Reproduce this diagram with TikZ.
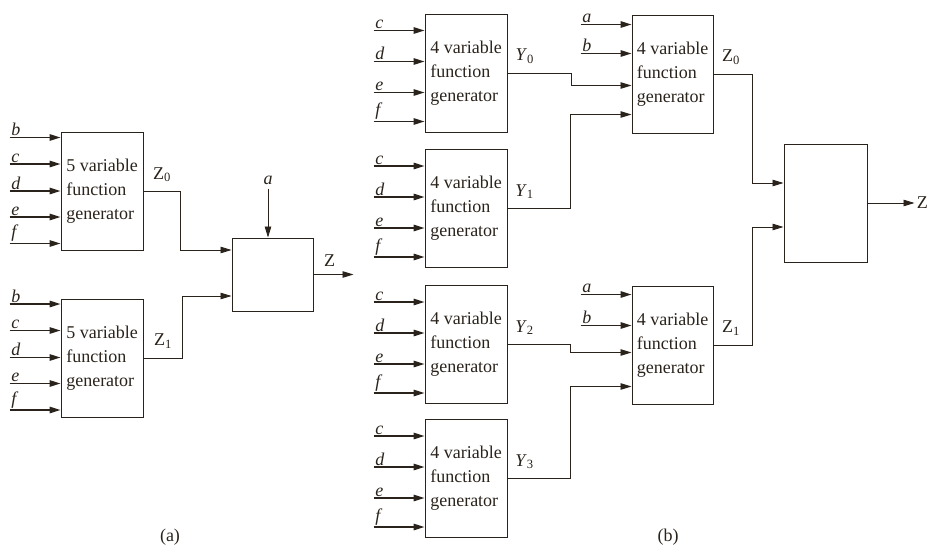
\documentclass[tikz,border=0pt]{standalone}
\usepackage{fontspec}
\setmainfont{Liberation Serif}
\usetikzlibrary{arrows.meta,positioning,calc}
\definecolor{ink}{RGB}{42,35,28}

\begin{document}
\begin{tikzpicture}[
    x=1pt, y=-1pt,
    every node/.style = {text=ink, font=\fontsize{18}{24}\selectfont},
    fgen/.style   = {draw=ink, line width=1pt, minimum width=82pt,
                     minimum height=118pt, align=left, inner sep=0pt},
    mux/.style    = {draw=ink, line width=1pt, inner sep=0pt},
    arr/.style    = {-{Triangle[length=11pt,width=6.5pt]}, draw=ink, line width=0.9pt},
    inarr/.style  = {arr, line width=1.5pt},
    inlbl/.style  = {anchor=south west, inner sep=1pt,
                     font=\fontsize{18}{24}\selectfont\itshape},
    outlbl/.style = {above=6pt},
]
\useasboundingbox (0,0) rectangle (932,546);

% (a) two 5-variable generators and a selector
\node[fgen] (A0) at (102,191.5) {5 variable\\function\\generator};
\node[fgen] (A1) at (102,358)   {5 variable\\function\\generator};
\node[mux, minimum width=81pt, minimum height=73pt] (M) at (272.5,274.5) {};
\foreach \b in {A0,A1}
  \foreach \v/\dy in {b/5.5,c/32,d/59,e/85,f/111.5}
    \draw[inarr] ([xshift=-51pt,yshift=-\dy pt]\b.north west) node[inlbl] (\b\v) {\v}
                 -- ++(51,0);
\draw[arr] (A0.east) -- node[pos=0.5, outlbl] (za0) {Z\textsubscript{0}} ++(37,0)
           |- ([yshift=24.5pt]M.west);
\draw[arr] (A1.east) -- node[pos=0.5, outlbl] (za1) {Z\textsubscript{1}} ++(39,0)
           |- ([yshift=-21.5pt]M.west);
\draw[arr] ([xshift=-4.5pt,yshift=49pt]M.north) node[above] (sela) {\textit{a}}
           -- ([xshift=-4.5pt]M.north);
\draw[arr] (M.east) -- node[pos=0.4, above=4pt] (za) {Z} ++(40,0);
\node (capa) at (170,537) {(a)};

% (b) 4-variable generators in two levels
\foreach \b/\y in {B0/73,B1/208.5,B2/344.5,B3/478.5}
  \node[fgen] (\b) at (466,\y) {4 variable\\function\\generator};
\node[fgen, minimum width=81pt] (C0) at (672.5,74)  {4 variable\\function\\generator};
\node[fgen, minimum width=81pt] (C1) at (672.5,345) {4 variable\\function\\generator};
\node[mux, minimum width=83pt, minimum height=118pt] (F) at (825.5,203) {};
\foreach \b in {B0,B1,B2,B3}
  \foreach \v/\dy in {c/17,d/48,e/79,f/108}
    \draw[inarr] ([xshift=-51pt,yshift=-\dy pt]\b.north west) node[inlbl] (\b\v) {\v}
                 -- ++(51,0);
\foreach \b/\da/\db in {C0/10/39,C1/9/40} {
  \draw[inarr] ([xshift=-51pt,yshift=-\da pt]\b.north west) node[inlbl] (\b a) {a}
               -- ++(51,0);
  \draw[inarr] ([xshift=-51pt,yshift=-\db pt]\b.north west) node[inlbl] (\b b) {b}
               -- ++(51,0);
}
\draw[arr] (B0.east) -- node[pos=0.27, outlbl] (y0) {\textit{Y}\textsubscript{0}} ++(64,0)
           |- ([yshift=-71pt]C0.north west);
\draw[arr] (B1.east) -- node[pos=0.27, outlbl] (y1) {\textit{Y}\textsubscript{1}} ++(63,0)
           |- ([yshift=-100pt]C0.north west);
\draw[arr] (B2.east) -- node[pos=0.27, outlbl] (y2) {\textit{Y}\textsubscript{2}} ++(63,0)
           |- ([yshift=-67pt]C1.north west);
\draw[arr] (B3.east) -- node[pos=0.27, outlbl] (y3) {\textit{Y}\textsubscript{3}} ++(63,0)
           |- ([yshift=-101pt]C1.north west);
\draw[arr] (C0.east) -- node[pos=0.45, outlbl] (zb0) {Z\textsubscript{0}} ++(39,0)
           |- ([yshift=20pt]F.west);
\draw[arr] (C1.east) -- node[pos=0.45, outlbl] (zb1) {Z\textsubscript{1}} ++(39,0)
           |- ([yshift=-24pt]F.west);
\draw[arr] (F.east) -- ++(47,0) node[right=0pt, inner sep=2pt] (zb) {Z};
\node (capb) at (668,537) {(b)};
\end{tikzpicture}
\end{document}
